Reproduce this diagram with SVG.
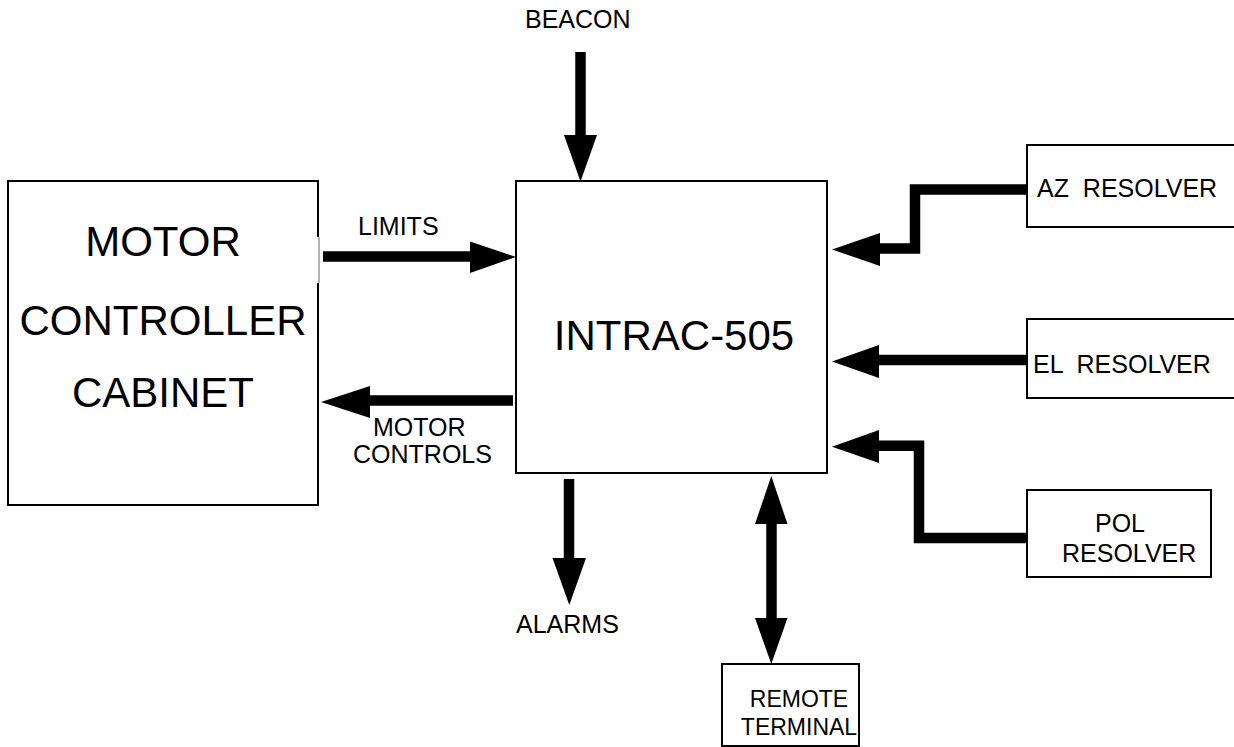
<svg xmlns="http://www.w3.org/2000/svg" width="1234" height="747" viewBox="0 0 1234 747">
<style>
.box{fill:#fff;stroke:#000;stroke-width:2}
.big{font-family:"Liberation Sans",Arial,sans-serif;font-size:42px;fill:#000}
.lbl{font-family:"Liberation Sans",Arial,sans-serif;font-size:25px;fill:#000}
.sm{font-family:"Liberation Sans",Arial,sans-serif;font-size:23px;fill:#000}
.shaft{fill:none;stroke:#000;stroke-width:10.5;stroke-linejoin:miter}
.head{fill:#000}
</style>
<rect width="1234" height="747" fill="#fff"/>
<g id="motor-controller">
<rect class="box" x="8" y="181" width="310" height="324"/>
<line x1="318" y1="237" x2="318" y2="283" stroke="#fff" stroke-width="3"/>
<line x1="319" y1="237" x2="319" y2="283" stroke="#999" stroke-width="1.5"/>
<text class="big" x="163" y="256" text-anchor="middle">MOTOR</text>
<text class="big" x="163" y="335" text-anchor="middle">CONTROLLER</text>
<text class="big" x="163" y="407" text-anchor="middle">CABINET</text>
</g>
<g id="intrac">
<rect class="box" x="516" y="181" width="311" height="292"/>
<text class="big" x="674" y="350" text-anchor="middle">INTRAC-505</text>
</g>
<g id="az-resolver">
<rect class="box" x="1027" y="145" width="215" height="82"/>
<text class="lbl" x="1037" y="197" xml:space="preserve">AZ  RESOLVER</text>
</g>
<g id="el-resolver">
<rect class="box" x="1027" y="319" width="215" height="79"/>
<text class="lbl" x="1033" y="373" xml:space="preserve">EL  RESOLVER</text>
</g>
<g id="pol-resolver">
<rect class="box" x="1027" y="490" width="184" height="87"/>
<text class="lbl" x="1095" y="532">POL</text>
<text class="lbl" x="1062" y="562">RESOLVER</text>
</g>
<g id="remote-terminal">
<rect class="box" x="722" y="664" width="137" height="82"/>
<text class="sm" x="799" y="707" text-anchor="middle">REMOTE</text>
<text class="sm" x="799" y="735" text-anchor="middle">TERMINAL</text>
</g>
<g id="labels">
<text class="lbl" x="525" y="28">BEACON</text>
<text class="lbl" x="358" y="235">LIMITS</text>
<text class="lbl" x="373" y="436">MOTOR</text>
<text class="lbl" x="353" y="463">CONTROLS</text>
<text class="lbl" x="516" y="633">ALARMS</text>
</g>
<g id="connectors">
<line class="shaft" x1="580.5" y1="52" x2="580.5" y2="137"/>
<polygon class="head" points="564,135 597,135 580.5,181.5"/>
<line class="shaft" x1="323" y1="256.5" x2="472" y2="256.5"/>
<polygon class="head" points="470,241.5 470,273 516,257"/>
<line class="shaft" x1="513" y1="400.5" x2="368" y2="400.5"/>
<polygon class="head" points="370,386 370,418 321,402"/>
<polyline class="shaft" points="1027,189.5 915,189.5 915,248.5 877,248.5"/>
<polygon class="head" points="880,233 880,266 832,249.5"/>
<line class="shaft" x1="1027" y1="360" x2="877" y2="360"/>
<polygon class="head" points="879,345 879,378 832,361.5"/>
<polyline class="shaft" points="1027,538 919,538 919,445.7 877,445.7"/>
<polygon class="head" points="879,430 879,463 832,446.7"/>
<line class="shaft" x1="569" y1="479" x2="569" y2="560"/>
<polygon class="head" points="552.5,558 586,558 569.3,605"/>
<line class="shaft" x1="771.5" y1="522" x2="771.5" y2="620"/>
<polygon class="head" points="755,524 787.5,524 771.3,476"/>
<polygon class="head" points="755,618 787.5,618 771.3,664"/>
</g>
</svg>
